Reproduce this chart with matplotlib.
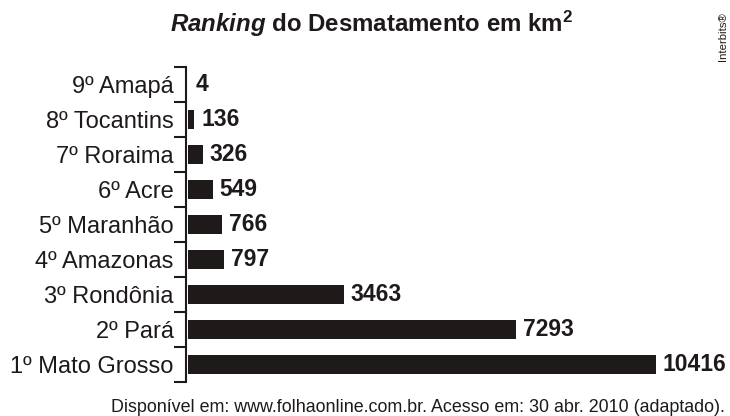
import matplotlib.pyplot as plt
import numpy as np

# dados do ranking (de baixo para cima)
states = ["1º Mato Grosso", "2º Pará", "3º Rondônia", "4º Amazonas", "5º Maranhão",
          "6º Acre", "7º Roraima", "8º Tocantins", "9º Amapá"]
area_km2 = [10416, 7293, 3463, 797, 766, 549, 326, 136, 4]

TITLE = r"$Ranking$ do Desmatamento em km$^2$"
SOURCE = "Disponível em: www.folhaonline.com.br. Acesso em: 30 abr. 2010 (adaptado)."

plt.rcParams["font.family"] = ["Liberation Sans", "DejaVu Sans"]
plt.rcParams["mathtext.fontset"] = "custom"
plt.rcParams["mathtext.rm"] = "Liberation Sans:bold"
plt.rcParams["mathtext.it"] = "Liberation Sans:italic:bold"
plt.rcParams["mathtext.bf"] = "Liberation Sans:bold"

INK = "#1e1a19"
W, H = 730, 416
fig = plt.figure(figsize=(W / 100, H / 100), dpi=100)
ax = fig.add_axes([186 / W, 1 - 382 / H, 544 / W, (382 - 67) / H])

y = np.arange(len(states))
ax.barh(y, area_km2, height=0.55, color=INK)

ax.set_xlim(-45, 12063)
ax.set_ylim(-0.5, len(states) - 0.5)

for yi, v in zip(y, area_km2):
    ax.annotate(str(v), (v, yi), xytext=(5, 0), textcoords="offset points",
                ha="left", va="center", fontsize=16.5, fontweight="bold", color=INK)

ax.set_yticks(y)
ax.set_yticklabels(states, fontsize=17, color=INK)
ax.tick_params(axis="y", which="major", length=0, pad=9)
ax.set_yticks(np.arange(-0.5, len(states)), minor=True)
ax.tick_params(axis="y", which="minor", length=9, width=1.5, color=INK)
ax.set_xticks([])

for side in ["top", "right", "bottom"]:
    ax.spines[side].set_visible(False)
ax.spines["left"].set_linewidth(1.5)
ax.spines["left"].set_color(INK)

fig.text(372 / W, 1 - 24 / H, TITLE, ha="center", va="center",
         fontsize=17.3, fontweight="bold", color=INK)
fig.text(723 / W, 1 - 37 / H, "Interbits®", rotation=90, ha="center", va="center",
         fontsize=8.2, color=INK)
fig.text(725 / W, 1 - 407 / H, SOURCE, ha="right", va="center",
         fontsize=12.9, color=INK)

fig.savefig("out.png", dpi=100)
